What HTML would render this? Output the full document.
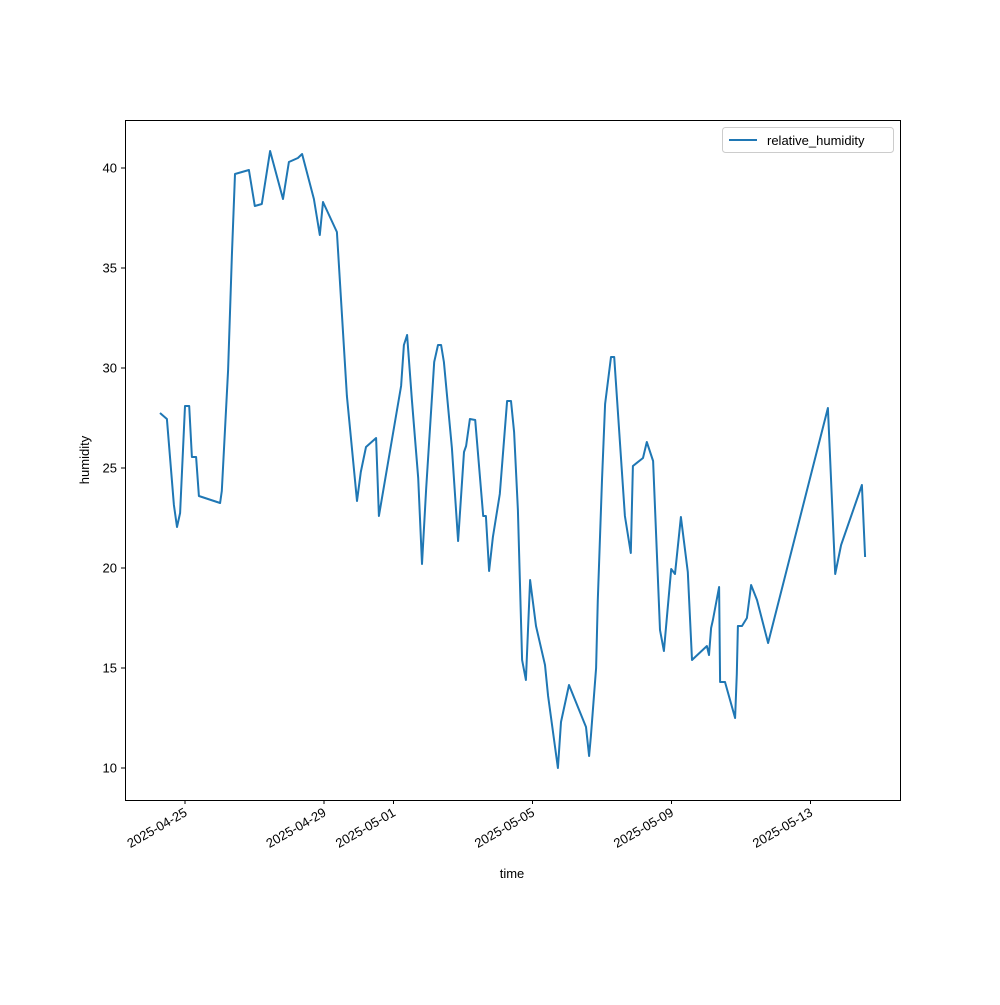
<!DOCTYPE html>
<html><head><meta charset="utf-8"><style>body{margin:0;background:#fff}svg{font-family:"Liberation Sans","DejaVu Sans",sans-serif}</style></head>
<body>
<svg id="chart" width="1000" height="1000">
<rect x="0" y="0" width="1000" height="1000" fill="#fff"/>
<g id="plot"></g>
<rect x="125.5" y="120.5" width="775" height="680" fill="none" stroke="#000" stroke-width="1"/>
<text x="512" y="878" font-size="13" text-anchor="middle">time</text>
<text x="89" y="460" font-size="13" text-anchor="middle" transform="rotate(-90 89 460)">humidity</text>
<g>
<rect x="722.5" y="127.5" width="171" height="25" rx="3" fill="#fff" stroke="#ccc"/>
<line x1="729" y1="140" x2="757" y2="140" stroke="#1f77b4" stroke-width="2"/>
<text x="767" y="145" font-size="13">relative_humidity</text>
</g>
</svg>
<script>
const days = [-0.72,-0.52,-0.32,-0.23,-0.14,0,0.12,0.20,0.32,0.40,1.01,1.06,1.24,1.35,1.44,1.84,2.01,2.21,2.45,2.82,2.99,3.25,3.37,3.71,3.88,3.97,4.37,4.66,4.95,5.06,5.21,5.50,5.58,6.22,6.30,6.39,6.53,6.71,6.82,6.94,7.17,7.28,7.37,7.45,7.68,7.86,8.03,8.09,8.20,8.35,8.58,8.66,8.75,8.86,9.06,9.27,9.38,9.47,9.58,9.70,9.81,9.93,10.10,10.36,10.45,10.73,10.82,11.05,11.54,11.63,11.68,11.83,11.88,12.00,12.09,12.26,12.35,12.66,12.83,12.89,13.18,13.29,13.47,13.67,13.78,13.87,13.99,14.10,14.27,14.47,14.59,15.02,15.08,15.14,15.19,15.37,15.40,15.54,15.83,15.88,15.91,16.03,16.17,16.29,16.46,16.78,18.50,18.71,18.88,19.48,19.57];
const humidity = [27.75,27.45,23.15,22.05,22.75,28.1,28.1,25.55,25.55,23.6,23.25,23.85,29.9,35.65,39.7,39.9,38.1,38.2,40.85,38.45,40.3,40.5,40.7,38.45,36.65,38.3,36.8,28.6,23.35,24.8,26.05,26.5,22.6,29.1,31.15,31.65,28.4,24.5,20.2,24.0,30.3,31.15,31.15,30.3,26.0,21.35,25.8,26.1,27.45,27.4,22.6,22.6,19.85,21.55,23.7,28.35,28.35,26.8,22.9,15.4,14.4,19.4,17.1,15.15,13.6,10,12.3,14.15,12.05,10.6,11.6,15,18.4,24.4,28.2,30.55,30.55,22.6,20.75,25.1,25.5,26.3,25.35,16.9,15.85,17.6,19.95,19.7,22.55,19.8,15.4,16.1,15.65,17.0,17.4,19.05,14.3,14.3,12.5,14.7,17.1,17.1,17.5,19.15,18.4,16.25,28.0,19.7,21.15,24.15,20.55];
const xTickDays = [0,4,6,10,14,18];
const xTickLabels = ["2025-04-25","2025-04-29","2025-05-01","2025-05-05","2025-05-09","2025-05-13"];
const yTicks = [10,15,20,25,30,35,40];

const xs = d => 185 + d*34.75;
const ys = v => 768 - (v-10)*20;
const NS = "http://www.w3.org/2000/svg";
const svg = document.getElementById('chart');
const plot = document.getElementById('plot');
function mk(tag, attrs, parent){const e=document.createElementNS(NS,tag);for(const k in attrs)e.setAttribute(k,attrs[k]);parent.appendChild(e);return e;}

yTicks.forEach(v=>{
  const y=ys(v);
  const t=mk('line',{x1:121,x2:125,y1:y,y2:y,stroke:'#000'},svg);
  
  
  const l=mk('text',{x:117,y:y+4.5,'font-size':13,'text-anchor':'end'},svg);
  
  
  l.textContent=v;
});
xTickDays.forEach((d,i)=>{
  const x=xs(d);
  const t=mk('line',{x1:x,x2:x,y1:800,y2:804,stroke:'#000'},svg);
  
  
  const l=mk('text',{x:x+3,y:815,'font-size':13,'text-anchor':'end',transform:`rotate(-30 ${x+3} 815)`},svg);
  
  
  l.textContent=xTickLabels[i];
});
const pts=days.map((d,i)=>xs(d).toFixed(1)+','+ys(humidity[i]).toFixed(1)).join(' ');
const line=mk('polyline',{points:pts,fill:'none',stroke:'#1f77b4','stroke-width':2,'stroke-linejoin':'round'},plot);


</script>
</body></html>
